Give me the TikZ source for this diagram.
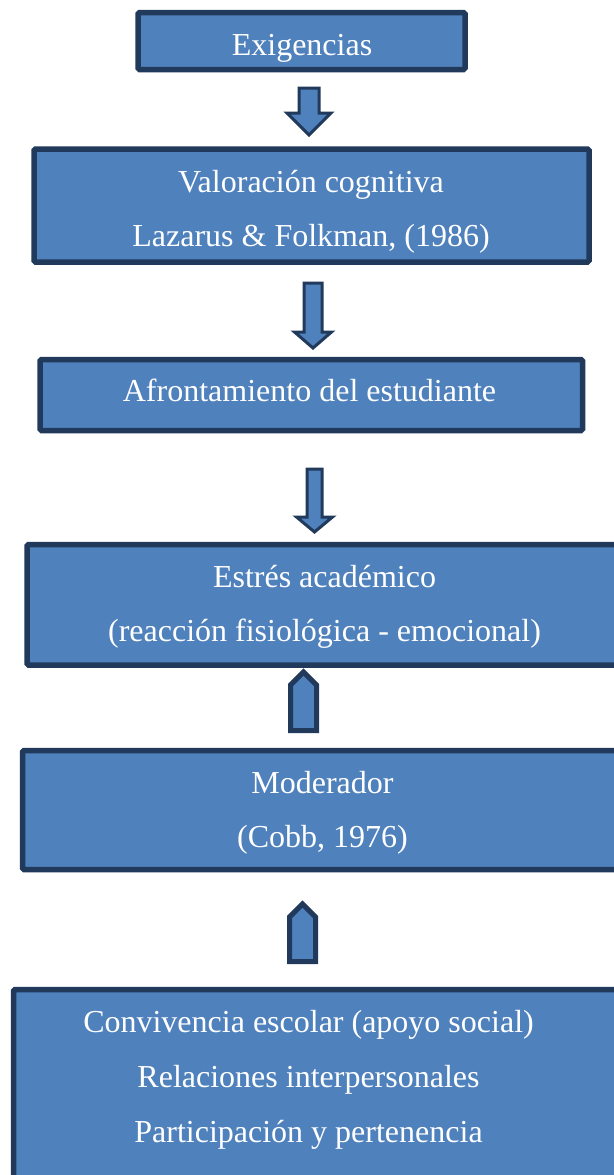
\documentclass[tikz,border=0pt]{standalone}
\usepackage{fontspec}
\setmainfont{Liberation Serif}
\definecolor{boxfill}{HTML}{4F81BD}
\definecolor{boxline}{HTML}{213A5C}
\tikzset{
  box/.style={draw=boxline, fill=boxfill, line width=5.5pt, rounded corners=1.5pt, inner sep=0pt, outer sep=0pt},
  openbox/.style={fill=boxfill, inner sep=0pt, outer sep=0pt, anchor=west},
  border/.style={draw=boxline, line width=5.5pt, rounded corners=1.5pt},
  txt/.style={text=white, font=\fontsize{32}{32}\selectfont, anchor=base, inner sep=0pt},
  downarrow/.style={draw=boxline, fill=boxfill, line width=3pt, line join=miter},
  uparrow/.style={draw=boxline, fill=boxfill, line width=5pt, line join=miter}
}
\begin{document}
\begin{tikzpicture}[x=1pt,y=-1pt]
\useasboundingbox (0,0) rectangle (613,1175);
% boxes
\node[box, minimum width=327pt, minimum height=57pt] (b1) at (301.5,41) {};
\node[box, minimum width=555pt, minimum height=113pt] (b2) at (311.5,205.5) {};
\node[box, minimum width=542.5pt, minimum height=71pt] (b3) at (311.25,395) {};
\node[openbox, minimum width=600pt, minimum height=120.5pt] (b4) at (27,604.75) {};
\draw[border] (b4.north east) -- (b4.north west) -- (b4.south west) -- (b4.south east);
\node[openbox, minimum width=600pt, minimum height=119pt] (b5) at (22.5,810) {};
\draw[border] (b5.north east) -- (b5.north west) -- (b5.south west) -- (b5.south east);
\node[openbox, minimum width=610pt, minimum height=200pt] (b6) at (13.5,1089.5) {};
\draw[border] (b6.north east) -- (b6.north west) -- (b6.south west);
% texts
\node[txt] (t1) at (302,55) {Exigencias};
\node[txt] (t2a) at (311,192) {Valoración cognitiva};
\node[txt] (t2b) at (311,246) {Lazarus \& Folkman, (1986)};
\node[txt] (t3) at (309.5,401) {Afrontamiento del estudiante};
\node[txt] (t4a) at (324.5,587) {Estrés académico};
\node[txt] (t4b) at (324.5,641) {(reacción fisiológica - emocional)};
\node[txt] (t5a) at (322.5,793) {Moderador};
\node[txt] (t5b) at (322.5,847) {(Cobb, 1976)};
\node[txt] (t6a) at (308.5,1032) {Convivencia escolar (apoyo social)};
\node[txt] (t6b) at (308.5,1087) {Relaciones interpersonales};
\node[txt] (t6c) at (308.5,1142) {Participación y pertenencia};
% down arrows
\draw[downarrow] (299,88) -- (319,88) -- (319,113) -- (331,113) -- (309,135) -- (287,113) -- (299,113) -- cycle;
\draw[downarrow] (304,283) -- (322,283) -- (322,332) -- (331.5,332) -- (313,348) -- (294.5,332) -- (304,332) -- cycle;
\draw[downarrow] (307,469) -- (322,469) -- (322,517) -- (332.5,517) -- (314.5,532) -- (296.5,517) -- (307,517) -- cycle;
% up arrows
\draw[uparrow] (290.5,730.5) -- (290.5,685) -- (303.5,672) -- (316.5,685) -- (316.5,730.5) -- cycle;
\draw[uparrow] (289.5,961.5) -- (289.5,917) -- (302.5,904) -- (315.5,917) -- (315.5,961.5) -- cycle;
\end{tikzpicture}
\end{document}
